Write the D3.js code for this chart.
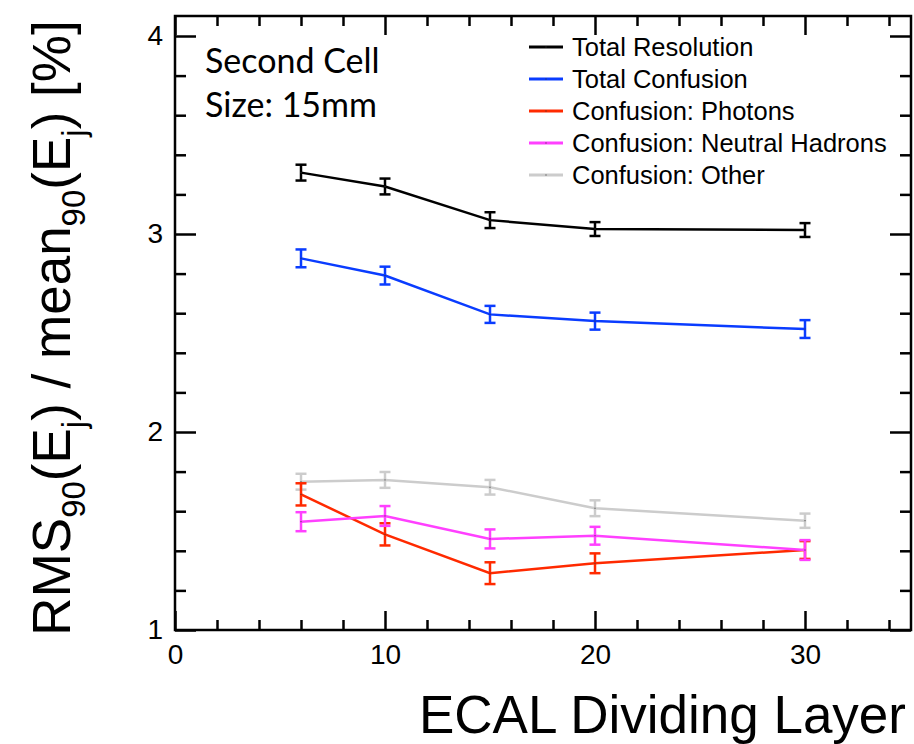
<!DOCTYPE html>
<html lang="en">
<head>
<meta charset="UTF-8">
<title>ECAL dividing layer</title>
<script src="https://d3js.org/d3.v7.min.js"></script>
<style>
  body { margin: 0; background: #fff; }
  svg { display: block; }
  .axis path, .axis line { stroke: #000; stroke-width: 2.5; }
  .axis text { font-family: "Liberation Sans", Arial, sans-serif; font-size: 28px; fill: #000; }
</style>
</head>
<body>
<svg id="chart" width="914" height="744"></svg>
<script>
// data
const layers = [6, 10, 15, 20, 30];

const totalResolution = [3.31, 3.24, 3.07, 3.025, 3.02];
const totalResolutionErr = [0.04, 0.04, 0.04, 0.035, 0.035];

const totalConfusion = [2.877, 2.79, 2.594, 2.56, 2.52];
const totalConfusionErr = [0.045, 0.045, 0.043, 0.043, 0.045];

const photons = [1.685, 1.483, 1.287, 1.337, 1.404];
const photonsErr = [0.056, 0.056, 0.055, 0.05, 0.045];

const neutralHadrons = [1.547, 1.576, 1.46, 1.476, 1.404];
const neutralHadronsErr = [0.048, 0.05, 0.048, 0.045, 0.05];

const other = [1.749, 1.758, 1.721, 1.615, 1.552];
const otherErr = [0.04, 0.04, 0.037, 0.04, 0.036];

const seriesNames = ["Total Resolution", "Total Confusion", "Confusion: Photons",
                     "Confusion: Neutral Hadrons", "Confusion: Other"];
const seriesColors = ["#000000", "#0a3cff", "#ff2a00", "#ff40ff", "#cccccc"];

const xTicks = [0, 10, 20, 30];
const yTicks = [1, 2, 3, 4];

const svg = d3.select("#chart");
const frameL = 175, frameR = 911, frameT = 16, frameB = 630;

const x = d3.scaleLinear().domain([0, 35]).range([frameL, 910]);
const y = d3.scaleLinear().domain([1, 4]).range([frameB, 36]);

// frame
svg.append("rect")
    .attr("x", frameL).attr("y", frameT)
    .attr("width", frameR - frameL).attr("height", frameB - frameT)
    .attr("fill", "none").attr("stroke", "#000").attr("stroke-width", 2.5);

const xMinor = d3.range(0, 35, 2).filter(v => v % 10 !== 0);
const yMinor = d3.range(1, 4.1, 0.2).filter(v => Math.abs(v - Math.round(v)) > 0.01);

function noDomain(g) { g.select(".domain").remove(); }

// bottom axis
svg.append("g").attr("class", "axis")
    .attr("transform", `translate(0,${frameB})`)
    .call(d3.axisBottom(x).tickValues(xTicks).tickFormat(d3.format("d"))
        .tickSizeInner(-19).tickSizeOuter(0).tickPadding(14))
    .call(noDomain);
svg.append("g").attr("class", "axis")
    .attr("transform", `translate(0,${frameB})`)
    .call(d3.axisBottom(x).tickValues(xMinor).tickSizeInner(-10).tickSizeOuter(0).tickFormat(""))
    .call(noDomain);
// top axis
svg.append("g").attr("class", "axis")
    .attr("transform", `translate(0,${frameT})`)
    .call(d3.axisTop(x).tickValues(xTicks).tickSizeInner(-19).tickSizeOuter(0).tickFormat(""))
    .call(noDomain);
svg.append("g").attr("class", "axis")
    .attr("transform", `translate(0,${frameT})`)
    .call(d3.axisTop(x).tickValues(xMinor).tickSizeInner(-10).tickSizeOuter(0).tickFormat(""))
    .call(noDomain);
// left axis
svg.append("g").attr("class", "axis")
    .attr("transform", `translate(${frameL},0)`)
    .call(d3.axisLeft(y).tickValues(yTicks).tickFormat(d3.format("d"))
        .tickSizeInner(-21).tickSizeOuter(0).tickPadding(12))
    .call(noDomain);
svg.append("g").attr("class", "axis")
    .attr("transform", `translate(${frameL},0)`)
    .call(d3.axisLeft(y).tickValues(yMinor).tickSizeInner(-11).tickSizeOuter(0).tickFormat(""))
    .call(noDomain);
// right axis
svg.append("g").attr("class", "axis")
    .attr("transform", `translate(${frameR},0)`)
    .call(d3.axisRight(y).tickValues(yTicks).tickSizeInner(-21).tickSizeOuter(0).tickFormat(""))
    .call(noDomain);
svg.append("g").attr("class", "axis")
    .attr("transform", `translate(${frameR},0)`)
    .call(d3.axisRight(y).tickValues(yMinor).tickSizeInner(-11).tickSizeOuter(0).tickFormat(""))
    .call(noDomain);

// series, drawn so that red sits over grey and magenta over red
const series = [
    { vals: totalResolution, errs: totalResolutionErr, color: seriesColors[0] },
    { vals: totalConfusion, errs: totalConfusionErr, color: seriesColors[1] },
    { vals: other, errs: otherErr, color: seriesColors[4] },
    { vals: photons, errs: photonsErr, color: seriesColors[2] },
    { vals: neutralHadrons, errs: neutralHadronsErr, color: seriesColors[3] }
];

const line = d3.line().x(d => x(d[0])).y(d => y(d[1]));
const cap = 5.5;

series.forEach(s => {
    const pts = layers.map((l, i) => [l, s.vals[i], s.errs[i]]);
    const g = svg.append("g");
    g.append("path")
        .attr("d", line(pts))
        .attr("fill", "none")
        .attr("stroke", s.color)
        .attr("stroke-width", 2.5);
    const eb = g.selectAll(".eb").data(pts).enter().append("g");
    eb.append("line")
        .attr("x1", d => x(d[0])).attr("x2", d => x(d[0]))
        .attr("y1", d => y(d[1] + d[2])).attr("y2", d => y(d[1] - d[2]))
        .attr("stroke", s.color).attr("stroke-width", 2.5);
    eb.append("line")
        .attr("x1", d => x(d[0]) - cap).attr("x2", d => x(d[0]) + cap)
        .attr("y1", d => y(d[1] + d[2])).attr("y2", d => y(d[1] + d[2]))
        .attr("stroke", s.color).attr("stroke-width", 2.5);
    eb.append("line")
        .attr("x1", d => x(d[0]) - cap).attr("x2", d => x(d[0]) + cap)
        .attr("y1", d => y(d[1] - d[2])).attr("y2", d => y(d[1] - d[2]))
        .attr("stroke", s.color).attr("stroke-width", 2.5);
    eb.append("rect")
        .attr("x", d => x(d[0]) - 0.5).attr("y", d => y(d[1]) - 0.5)
        .attr("width", 1).attr("height", 1).attr("fill", "#333");
});

// legend
const legend = svg.append("g");
seriesNames.forEach((name, i) => {
    const ly = 47 + i * 32;
    legend.append("line")
        .attr("x1", 529).attr("x2", 563).attr("y1", ly).attr("y2", ly)
        .attr("stroke", seriesColors[i]).attr("stroke-width", 3);
    legend.append("rect")
        .attr("x", 545.5).attr("y", ly - 0.5).attr("width", 1).attr("height", 1).attr("fill", "#333");
    legend.append("text")
        .attr("x", 572).attr("y", ly + 9)
        .attr("font-family", "'Liberation Sans', Arial, sans-serif")
        .attr("font-size", 25.5)
        .text(name);
});

// label in the corner
const note = svg.append("g")
    .attr("font-family", "Lato, 'Open Sans', sans-serif")
    .attr("font-size", 34);
note.append("text").attr("x", 205).attr("y", 73).text("Second Cell");
note.append("text").attr("x", 205).attr("y", 117).text("Size: 15mm");

// axis titles
svg.append("text")
    .attr("x", 906).attr("y", 733)
    .attr("text-anchor", "end")
    .attr("font-family", "'Liberation Sans', Arial, sans-serif")
    .attr("font-size", 53)
    .text("ECAL Dividing Layer");

const yTitle = svg.append("text")
    .attr("transform", "translate(70,328) rotate(-90)")
    .attr("text-anchor", "middle")
    .attr("font-family", "'Liberation Sans', Arial, sans-serif")
    .attr("font-size", 53);
const parts = [["RMS", 0], ["90", 1], ["(E", 0], ["j", 1], [") / mean", 0], ["90", 1], ["(E", 0], ["j", 1], [") [%]", 0]];
let shifted = false;
parts.forEach(([t, sub]) => {
    const ts = yTitle.append("tspan").text(t);
    if (sub && !shifted) { ts.attr("dy", 15).attr("font-size", 33); shifted = true; }
    else if (sub) { ts.attr("font-size", 33); }
    else if (shifted) { ts.attr("dy", -15); shifted = false; }
});
</script>
</body>
</html>
